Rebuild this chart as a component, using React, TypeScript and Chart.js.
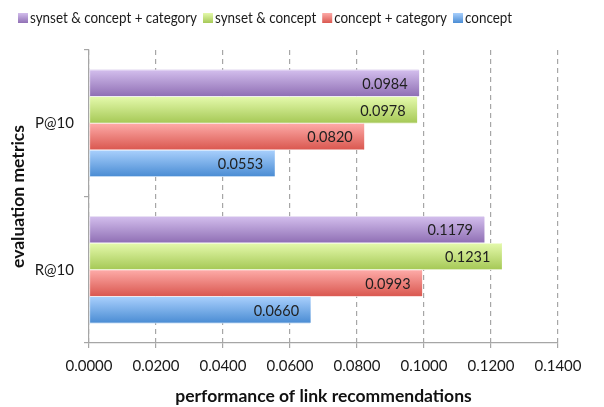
import React, { useEffect, useRef } from "react";
import { Chart, registerables } from "chart.js";

Chart.register(...registerables);

const categories = ["P@10", "R@10"];
const seriesNames = ["synset & concept + category", "synset & concept", "concept + category", "concept"];
const synsetConceptCategory = [0.0984, 0.1179];
const synsetConcept = [0.0978, 0.1231];
const conceptCategory = [0.082, 0.0993];
const conceptOnly = [0.0553, 0.066];
const xTicks = [0, 0.02, 0.04, 0.06, 0.08, 0.1, 0.12, 0.14];

const palette = [
  { mid: "#b197d3", top: "#d2bdec", bottom: "#9070b5" },
  { mid: "#c6e383", top: "#e4f9ab", bottom: "#a6c957" },
  { mid: "#ee7f79", top: "#fdaaa7", bottom: "#da5850" },
  { mid: "#79afe8", top: "#a8cffc", bottom: "#4b8dd4" },
];

const FONT = "Lato, 'Open Sans', sans-serif";

function grad(ctx: CanvasRenderingContext2D, top: number, bot: number, pal: any) {
  const g = ctx.createLinearGradient(0, top, 0, bot);
  g.addColorStop(0, pal.top);
  g.addColorStop(1, pal.bottom);
  return g;
}

const gradientBars = {
  id: "gradientBars",
  afterDatasetsDraw(chart: any) {
    const ctx = chart.ctx;
    chart.data.datasets.forEach((ds: any, di: number) => {
      const meta = chart.getDatasetMeta(di);
      const pal = palette[di];
      meta.data.forEach((el: any, i: number) => {
        const { x, y, base, height } = el.getProps(["x", "y", "base", "height"], true);
        const top = y - height / 2 + 0.5;
        const bot = y + height / 2 - 0.5;
        ctx.save();
        ctx.fillStyle = "#ffffff";
        ctx.fillRect(Math.min(base, x), y - height / 2, Math.abs(x - base), height);
        ctx.fillStyle = grad(ctx, top, bot, pal);
        ctx.fillRect(Math.min(base, x) + 0.5, top, Math.abs(x - base), bot - top);
        ctx.fillStyle = "#1f1f1f";
        ctx.font = "14.5px " + FONT;
        ctx.textAlign = "right";
        ctx.textBaseline = "middle";
        ctx.fillText(Number(ds.data[i]).toFixed(4), x - 11, y + 1);
        ctx.restore();
      });
    });
  },
};

const topLegend = {
  id: "topLegend",
  afterDraw(chart: any) {
    const ctx = chart.ctx;
    ctx.save();
    ctx.font = "15.5px " + FONT;
    const w1 = ctx.measureText(chart.data.datasets[0].label).width;
    const sx = Math.min(1, 167 / w1);
    ctx.textAlign = "left";
    ctx.textBaseline = "middle";
    let cx = 18;
    const boxTop = 13;
    chart.data.datasets.forEach((ds: any, di: number) => {
      ctx.fillStyle = grad(ctx, boxTop, boxTop + 10, palette[di]);
      ctx.fillRect(cx, boxTop, 10, 10);
      ctx.fillStyle = "#1a1a1a";
      const tx = cx + 12;
      ctx.save();
      ctx.translate(tx, boxTop + 5);
      ctx.scale(sx, 1);
      ctx.fillText(ds.label, 0, 0);
      ctx.restore();
      cx = tx + ctx.measureText(ds.label).width * sx + 6;
    });
    ctx.restore();
  },
};

export default function App() {
  const ref = useRef<HTMLCanvasElement>(null);
  useEffect(() => {
    if (!ref.current) return;
    const seriesData = [synsetConceptCategory, synsetConcept, conceptCategory, conceptOnly];
    const chart = new Chart(ref.current, {
      type: "bar",
      data: {
        labels: categories,
        datasets: seriesNames.map((name, i) => ({
          label: name,
          data: seriesData[i],
          backgroundColor: palette[i].mid,
          borderWidth: 0,
          categoryPercentage: 0.73,
          barPercentage: 1.0,
        })),
      },
      options: {
        indexAxis: "y",
        animation: false,
        responsive: true,
        maintainAspectRatio: false,
        layout: { padding: { left: 8, right: 46, top: 50, bottom: 0 } },
        plugins: {
          tooltip: { enabled: false },
          legend: { display: false },
        },
        scales: {
          x: {
            min: 0,
            max: 0.14,
            afterBuildTicks: (scale: any) => {
              scale.ticks = xTicks.map((v) => ({ value: v }));
            },
            ticks: {
              callback: (v: any) => Number(v).toFixed(4),
              color: "#1a1a1a",
              font: { family: FONT, size: 15 },
              padding: 9,
            },
            grid: { color: "#a6a6a6", lineWidth: 1.2, tickLength: 5, tickColor: "#a6a6a6" },
            border: { display: true, color: "#a6a6a6", width: 1.2, dash: [5, 4] },
            title: {
              display: true,
              text: "performance of link recommendations",
              color: "#111",
              font: { family: FONT, size: 17.5, weight: "bold" },
              padding: { top: 2, bottom: 0 },
            },
          },
          y: {
            afterFit: (scale: any) => {
              scale.width = 81;
            },
            grid: { display: true, drawOnChartArea: false, offset: true, tickLength: 5, color: "#a6a6a6", lineWidth: 1.2 },
            border: { display: true, color: "#a6a6a6", width: 1.2 },
            ticks: {
              color: "#1a1a1a",
              font: { family: FONT, size: 15 },
              padding: 10,
            },
            title: {
              display: true,
              text: "evaluation metrics",
              color: "#111",
              font: { family: FONT, size: 17.5, weight: "bold" },
              padding: { top: 0, bottom: 6 },
            },
          },
        },
      },
      plugins: [gradientBars, topLegend],
    } as any);
    return () => chart.destroy();
  }, []);
  return (
    <div style={{ position: "fixed", left: 0, top: 0, width: 604, height: 407, background: "#fff" }}>
      <canvas ref={ref} />
    </div>
  );
}
